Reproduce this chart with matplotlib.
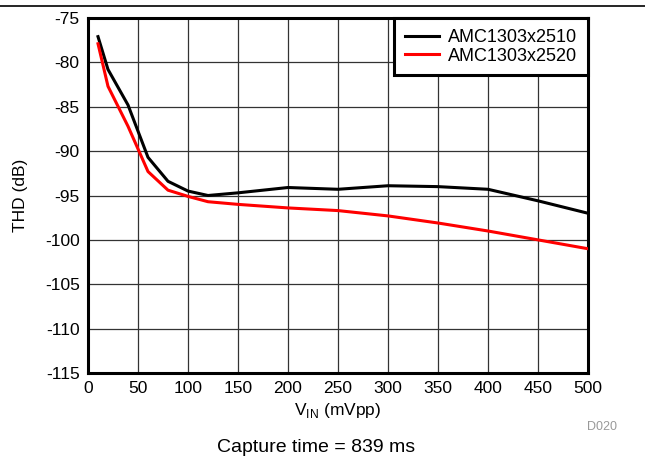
import matplotlib
matplotlib.use("Agg")
import matplotlib.pyplot as plt
from matplotlib.lines import Line2D

plt.rcParams['font.family'] = ['Liberation Sans', 'DejaVu Sans']
plt.rcParams['axes.unicode_minus'] = False

x_vals = [10, 20, 40, 60, 80, 100, 120, 150, 200, 250, 300, 350, 400, 450, 500]
thd_2510 = [-77.1, -80.8, -84.8, -90.7, -93.4, -94.5, -95.0, -94.7, -94.1, -94.3, -93.9, -94.0, -94.3, -95.6, -97.0]
thd_2520 = [-77.9, -82.7, -87.2, -92.3, -94.4, -95.1, -95.7, -96.0, -96.4, -96.7, -97.3, -98.1, -99.0, -100.0, -101.0]
series_names = ["AMC1303x2510", "AMC1303x2520"]
x_ticks = [0, 50, 100, 150, 200, 250, 300, 350, 400, 450, 500]
y_ticks = [-115, -110, -105, -100, -95, -90, -85, -80, -75]

fig = plt.figure(figsize=(6.45, 4.59), dpi=100)
ax = fig.add_axes([88/645, 1 - 373/459, 500/645, 355/459])

ax.plot(x_vals, thd_2510, color='black', lw=2.2, label=series_names[0], zorder=3)
ax.plot(x_vals, thd_2520, color='#ff0000', lw=2.2, label=series_names[1], zorder=3)

ax.set_xlim(0, 500)
ax.set_ylim(-115, -75)
ax.set_xticks(x_ticks)
ax.set_yticks(y_ticks)
ax.grid(True, color='#333333', lw=0.9)
ax.set_axisbelow(True)
ax.tick_params(length=0, labelsize=12.5, pad=6)
for s in ax.spines.values():
    s.set_linewidth(2.2)
    s.set_color('black')

ax.set_xlabel(r"V$_{\mathregular{IN}}$ (mVpp)", fontsize=12.5, labelpad=3)
ax.set_ylabel("THD (dB)", fontsize=12.5, labelpad=12)

leg = ax.legend(loc='upper right', fontsize=13, frameon=True, fancybox=False,
                borderaxespad=0, handlelength=1.9, handletextpad=0.5,
                borderpad=0.6, labelspacing=0.1)
leg.get_frame().set_edgecolor('black')
leg.get_frame().set_linewidth(2.2)
leg.get_frame().set_alpha(1)

fig.text(602/645, 1 - 427/459, "D020", fontsize=9, color='#999999', ha='center', va='center')
fig.text(316/645, 1 - 448/459, "Capture time = 839 ms", fontsize=14, ha='center', va='center')

fig.add_artist(Line2D([0, 1], [1 - 6/459, 1 - 6/459], color='black', lw=1.2, transform=fig.transFigure))

fig.savefig("out.png", dpi=100)
